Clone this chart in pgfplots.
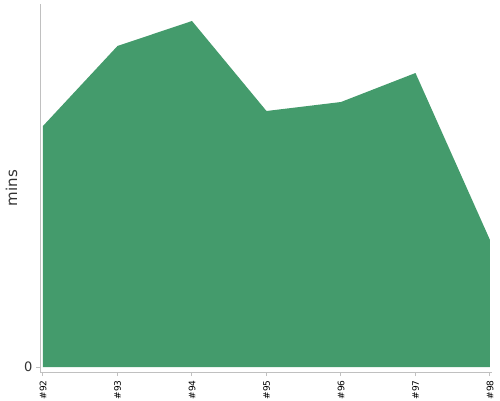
\documentclass[border=0pt]{standalone}
\usepackage{fontspec}
\setmainfont{DejaVu Sans}
\usepackage{pgfplots}
\pgfplotsset{compat=1.18}
\definecolor{areagreen}{RGB}{68,155,108}
\definecolor{axisgray}{RGB}{192,192,192}
\definecolor{labelgray}{RGB}{51,51,51}

\begin{document}
\begin{tikzpicture}
\useasboundingbox (0,0) rectangle (500pt,400pt);
\begin{axis}[
  at={(40pt,28pt)}, anchor=south west,
  scale only axis, width=452pt, height=368pt,
  xmin=-0.04, xmax=6.027, ymin=-5, ymax=363,
  axis x line*=bottom, axis y line*=left,
  axis line style={axisgray, line width=1pt, -},
  /pgf/number format/assume math mode=true,
  xtick={0,...,6},
  xticklabels={\#92,\#93,\#94,\#95,\#96,\#97,\#98},
  x tick label style={rotate=90, anchor=east, font=\fontsize{9pt}{9pt}\selectfont, xshift=-1pt},
  ytick={0},
  y tick label style={font=\fontsize{13pt}{13pt}\selectfont, color=labelgray},
  tick style={axisgray, line width=1pt},
  tick align=outside, major tick length=4pt,
  ylabel={mins},
  ylabel style={font=\fontsize{15pt}{15pt}\selectfont, color=labelgray,
    at={(axis description cs:0,0.5)}, anchor=center, yshift=28.5pt, xshift=0pt},
  clip=false,
]
\addplot[fill=areagreen, draw=none] coordinates {
  (0,241) (1,321) (2,346) (3,256) (4,265) (5,294) (6,127)
} \closedcycle;
\end{axis}
\end{tikzpicture}
\end{document}
